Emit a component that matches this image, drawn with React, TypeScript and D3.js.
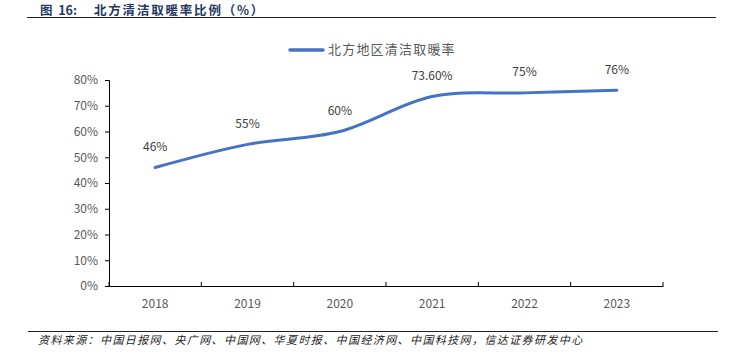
/* eslint-disable */
import React, { useEffect, useRef } from 'react';
import * as d3 from 'd3';

const years = ['2018', '2019', '2020', '2021', '2022', '2023'];
const rates = [46, 55, 60, 73.6, 75, 76];
const rateLabels = ['46%', '55%', '60%', '73.60%', '75%', '76%'];
const yTicks = [0, 10, 20, 30, 40, 50, 60, 70, 80];
const seriesName = '北方地区清洁取暖率';
const titleHead = '图  16:';
const titleBody = '北方清洁取暖率比例（%）';
const source = '资料来源：中国日报网、央广网、中国网、华夏时报、中国经济网、中国科技网，信达证券研发中心';

const App = () => {
  const ref = useRef<SVGSVGElement>(null);

  useEffect(() => {
    if (!ref.current) return;
    const svg = d3.select(ref.current);
    svg.selectAll('*').remove();

    const width = 732;
    const height = 360;
    const margin = { top: 80, right: 69, bottom: 74, left: 109 };
    const font = "'Noto Sans CJK SC', 'Noto Sans', sans-serif";

    // ------- Title -------
    svg
      .append('text')
      .attr('x', 40)
      .attr('y', 14.5)
      .attr('fill', '#1f3864')
      .attr('font-family', font)
      .attr('font-weight', 'bold')
      .attr('font-size', 12.5)
      .attr('xml:space', 'preserve')
      .style('white-space', 'pre')
      .text(titleHead);
    svg
      .append('text')
      .attr('x', 94)
      .attr('y', 14.5)
      .attr('fill', '#1f3864')
      .attr('font-family', font)
      .attr('font-weight', 'bold')
      .attr('font-size', 12.5)
      .attr('letter-spacing', 1.8)
      .text(titleBody);

    svg
      .append('line')
      .attr('x1', 27)
      .attr('x2', 716)
      .attr('y1', 17.5)
      .attr('y2', 17.5)
      .attr('stroke', '#222')
      .attr('stroke-width', 1.2);

    // ------- Scales -------
    const x = d3
      .scaleBand()
      .domain(years)
      .range([margin.left, width - margin.right]);

    const y = d3
      .scaleLinear()
      .domain([0, 80])
      .range([height - margin.bottom, margin.top]);

    // ------- Axes -------
    const yAxis = svg
      .append('g')
      .attr('transform', `translate(${margin.left},0)`)
      .call(
        d3
          .axisLeft(y)
          .tickValues(yTicks)
          .tickSize(4)
          .tickPadding(7)
          .tickFormat((d) => `${d}%`)
      );
    yAxis.select('.domain').attr('stroke', '#000');
    yAxis.selectAll('line').attr('stroke', '#000');
    yAxis
      .selectAll('text')
      .attr('fill', '#595959')
      .attr('font-size', 12)
      .attr('font-family', font);

    const xAxis = svg
      .append('g')
      .attr('transform', `translate(0,${height - margin.bottom})`)
      .call(d3.axisBottom(x).tickSize(0).tickPadding(13));
    xAxis.select('.domain').attr('stroke', '#000');
    xAxis
      .selectAll('text')
      .attr('fill', '#595959')
      .attr('font-size', 12)
      .attr('font-family', font);

    // tick marks between categories
    const bounds = years.map((d) => x(d)!).concat([width - margin.right]);
    svg
      .append('g')
      .selectAll('line')
      .data(bounds)
      .enter()
      .append('line')
      .attr('x1', (d) => d)
      .attr('x2', (d) => d)
      .attr('y1', height - margin.bottom)
      .attr('y2', height - margin.bottom - 4)
      .attr('stroke', '#000');

    // ------- Line -------
    const pts = years.map((yr, i) => ({ yr, v: rates[i], label: rateLabels[i] }));
    const line = d3
      .line<{ yr: string; v: number }>()
      .x((d) => x(d.yr)! + x.bandwidth() / 2)
      .y((d) => y(d.v))
      .curve(d3.curveCatmullRom.alpha(0.5));

    svg
      .append('path')
      .datum(pts)
      .attr('fill', 'none')
      .attr('stroke', '#4472c4')
      .attr('stroke-width', 3)
      .attr('stroke-linecap', 'round')
      .attr('d', line);

    // ------- Labels -------
    svg
      .append('g')
      .selectAll('text')
      .data(pts)
      .enter()
      .append('text')
      .attr('x', (d) => x(d.yr)! + x.bandwidth() / 2)
      .attr('y', (d) => y(d.v) - 20)
      .attr('text-anchor', 'middle')
      .attr('dominant-baseline', 'middle')
      .attr('fill', '#404040')
      .attr('font-size', 12)
      .attr('font-family', font)
      .text((d) => d.label);

    // ------- Legend -------
    svg
      .append('line')
      .attr('x1', 290)
      .attr('x2', 323)
      .attr('y1', 50)
      .attr('y2', 50)
      .attr('stroke', '#4472c4')
      .attr('stroke-width', 3.5)
      .attr('stroke-linecap', 'round');
    svg
      .append('text')
      .attr('x', 328)
      .attr('y', 50)
      .attr('dominant-baseline', 'middle')
      .attr('fill', '#595959')
      .attr('font-size', 13)
      .attr('letter-spacing', 1.2)
      .attr('font-family', font)
      .text(seriesName);

    // ------- Source -------
    svg
      .append('line')
      .attr('x1', 28)
      .attr('x2', 718)
      .attr('y1', 331.5)
      .attr('y2', 331.5)
      .attr('stroke', '#222')
      .attr('stroke-width', 1.2);
    svg
      .append('text')
      .attr('x', 38)
      .attr('y', 341)
      .attr('dominant-baseline', 'middle')
      .attr('fill', '#222')
      .attr('font-size', 11)
      .attr('letter-spacing', 1.4)
      .attr('font-style', 'italic')
      .attr('font-family', font)
      .text(source);
  }, []);

  return (
    <svg
      ref={ref}
      width={732}
      height={360}
      style={{ position: 'absolute', left: 0, top: 0, background: '#fff' }}
    />
  );
};

export default App;
